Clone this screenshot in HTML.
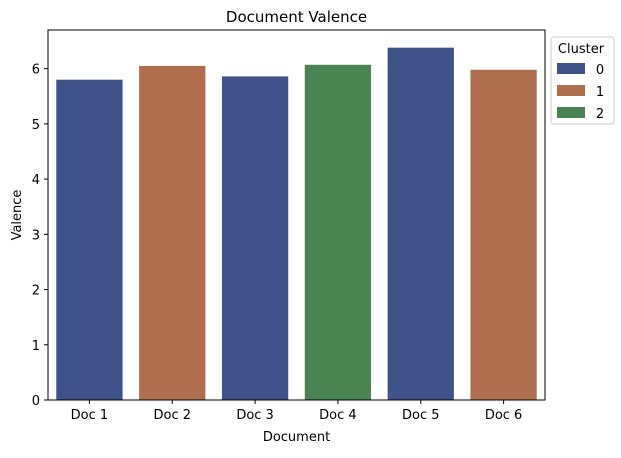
<!DOCTYPE html>
<html><head><meta charset="utf-8"><style>
body{margin:0;background:#fff;font-family:"Liberation Sans","DejaVu Sans",sans-serif;}
svg text{font-family:"DejaVu Sans","Liberation Sans",sans-serif;}
</style></head><body>
<svg id="chart" width="621" height="453"></svg>
<script>
const categories=["Doc 1","Doc 2","Doc 3","Doc 4","Doc 5","Doc 6"];
const values=[5.8,6.05,5.86,6.07,6.38,5.98];
const clusters=[0,1,0,2,0,1];
const yTicks=[0,1,2,3,4,5,6];
const legendLabels=["0","1","2"];
const colors=["#3f528a","#af6e4d","#4a8452"];
const NS="http://www.w3.org/2000/svg";
const svg=document.getElementById('chart');
const L=48,R=545,T=30,B=400,yMax=6.7;
const y=v=>B-(B-T)*v/yMax;
const step=(R-L)/categories.length;
const x=i=>L+step*(i+0.5);
function mk(tag,attrs,parent){const e=document.createElementNS(NS,tag);for(const k in attrs)e.setAttribute(k,attrs[k]);(parent||svg).appendChild(e);return e;}
categories.forEach((c,i)=>{
 const r=mk('rect',{x:x(i)-step*0.4,y:y(values[i]),width:step*0.8,height:B-y(values[i]),fill:colors[clusters[i]]});
 
 
 mk('line',{x1:x(i),x2:x(i),y1:B,y2:B+4,stroke:'#000'});
 const t=mk('text',{x:x(i),y:B+19,'text-anchor':'middle','font-size':13});t.textContent=c;
 
 
});
yTicks.forEach(v=>{
 mk('line',{x1:L-4,x2:L,y1:y(v),y2:y(v),stroke:'#000'});
 const t=mk('text',{x:L-8,y:y(v)+5,'text-anchor':'end','font-size':13});t.textContent=v;
 
 
});
const frame=mk('rect',{x:L,y:T,width:R-L,height:B-T,fill:'none',stroke:'#000','stroke-width':1});


let t=mk('text',{x:(L+R)/2,y:22,'text-anchor':'middle','font-size':15});t.textContent="Document Valence";


t=mk('text',{x:(L+R)/2,y:441,'text-anchor':'middle','font-size':13});t.textContent="Document";


t=mk('text',{x:21,y:(T+B)/2,'text-anchor':'middle','font-size':13,transform:`rotate(-90 21 ${(T+B)/2})`});t.textContent="Valence";


const lg=mk('g',{});


mk('rect',{x:551,y:37,width:63,height:87,rx:3,fill:'#fff',stroke:'#ccc'},lg);
t=mk('text',{x:581,y:53,'text-anchor':'middle','font-size':13},lg);t.textContent="Cluster";
legendLabels.forEach((l,i)=>{
 const g=mk('g',{},lg);
 
 
 mk('rect',{x:557,y:63+i*22,width:28,height:11,fill:colors[i]},g);
 const tt=mk('text',{x:600,y:74+i*22,'text-anchor':'middle','font-size':13},g);tt.textContent=l;
});
</script>
</body></html>
